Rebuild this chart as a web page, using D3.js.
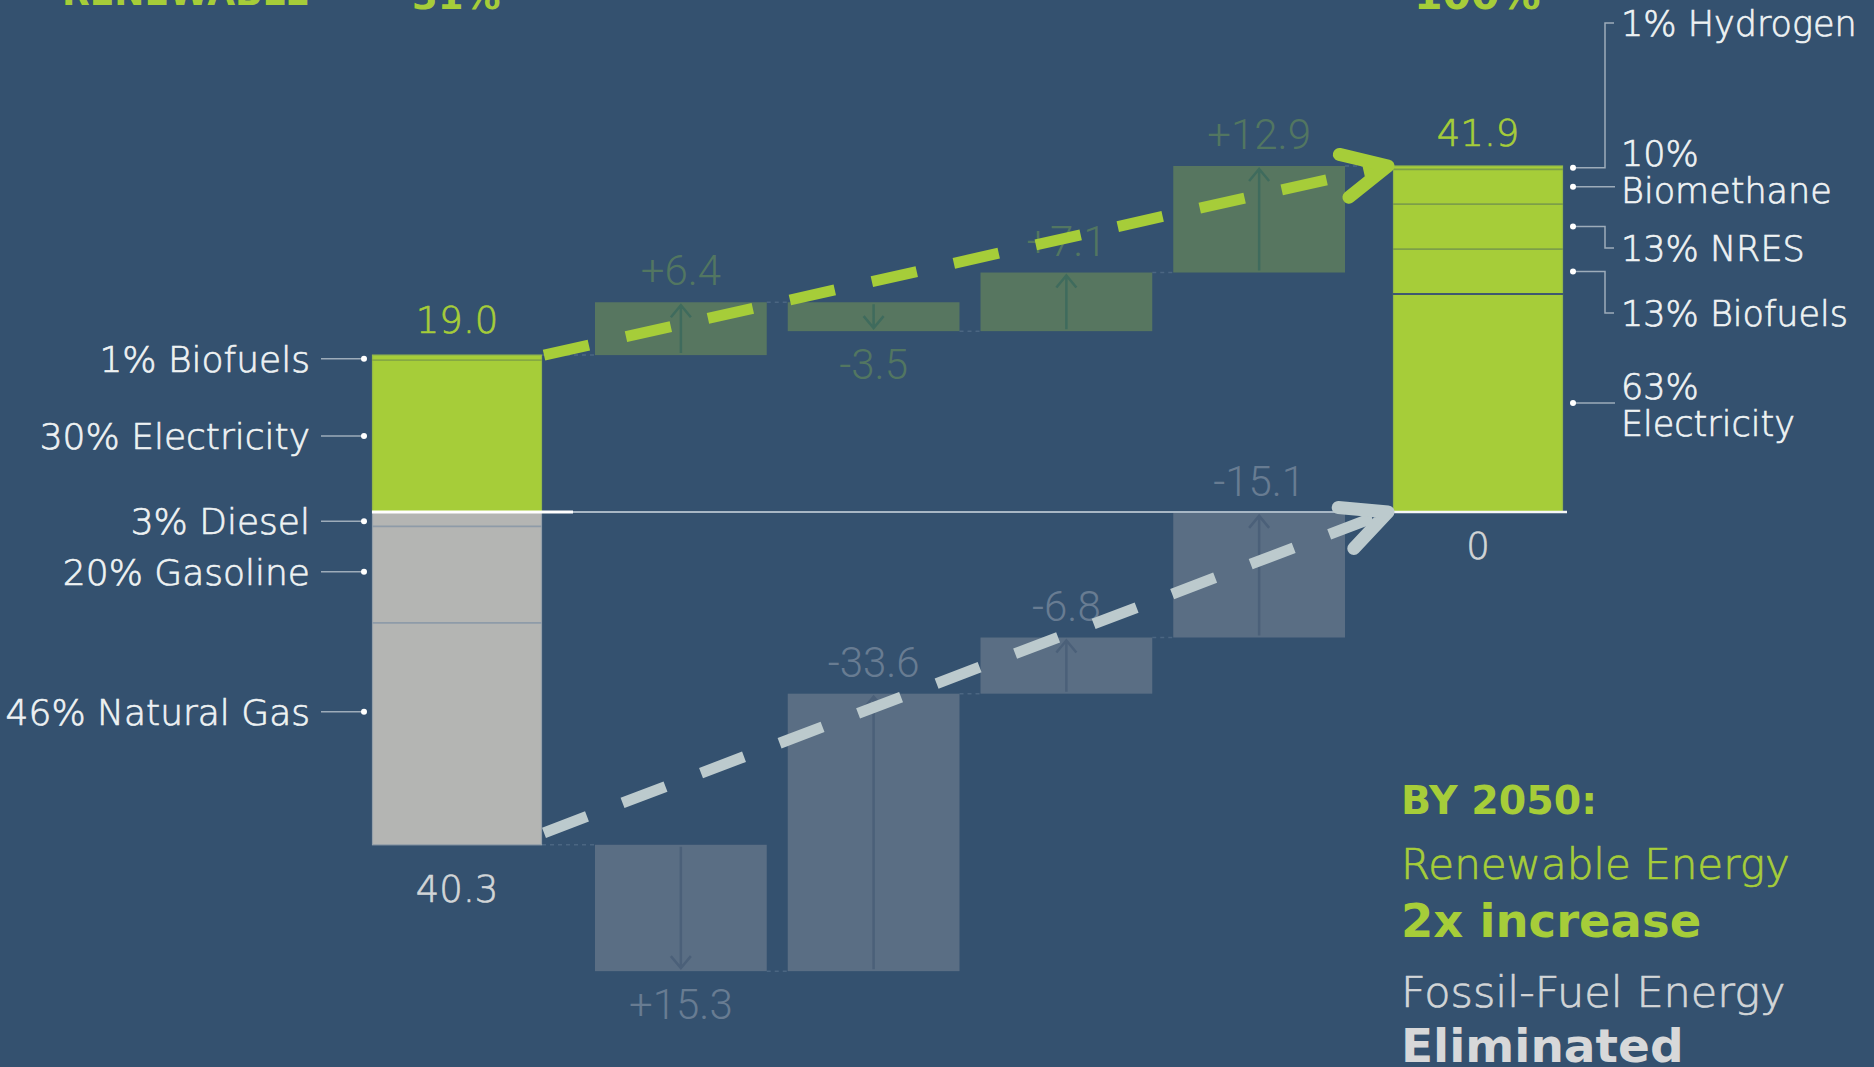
<!DOCTYPE html>
<html><head><meta charset="utf-8">
<script src="https://cdn.jsdelivr.net/npm/d3@7"></script>
<style>
html,body{margin:0;padding:0;background:#34516f;overflow:hidden;}
svg{display:block;}
</style></head><body>
<svg id="chart" width="1874" height="1067"></svg>
<script>
// ---------------- DATA ----------------
const totalColumns = ["start", "end"];
const stepNames = ["step1", "step2", "step3", "step4"];
const renewableStart = 19.0;
const fossilStart = 40.3;
const renewableEnd = 41.9;
const fossilEnd = 0;
const renewableDeltas = [6.4, -3.5, 7.1, 12.9];
const renewableDeltaLabels = ["+6.4", "-3.5", "+7.1", "+12.9"];
const fossilDeltas = [15.3, -33.6, -6.8, -15.1];
const fossilDeltaLabels = ["+15.3", "-33.6", "-6.8", "-15.1"];
const startRenewableNames = ["Biofuels", "Electricity"];
const startRenewablePct = [1, 30];
const startFossilNames = ["Diesel", "Gasoline", "Natural Gas"];
const startFossilPct = [3, 20, 46];
const endRenewableNames = ["Hydrogen", "Biomethane", "NRES", "Biofuels", "Electricity"];
const endRenewablePct = [1, 10, 13, 13, 63];
const valueLabels = ["19.0", "40.3", "41.9", "0"];
const headerTexts = ["RENEWABLE", "31%", "100%"];
const summaryTexts = ["BY 2050:", "Renewable Energy", "2x increase", "Fossil-Fuel Energy", "Eliminated"];

// ---------------- STYLE / LAYOUT ----------------
const W = 1874, H = 1067;
const C = {
  bg: "#34516f", green: "#a6cd39", gray: "#b4b5b3",
  gDelta: "#577660", gDeltaText: "#527661", gArrow: "#3f6b5d",
  fDelta: "#5a6e84", fDeltaText: "#687c92", fArrow: "#4b6079",
  text: "#eef2f3", lightGray: "#d2d5d7", conn: "#9dacba",
  grayDash: "#bccacd"
};
const FONT = "'DejaVu Sans', 'Open Sans', sans-serif";
const NUMFONT = "Roboto, 'Open Sans', sans-serif";
const LABELWEIGHT = 300;
const THICKEN = 0.7;

const svg = d3.select("#chart");
svg.append("rect").attr("width", W).attr("height", H).attr("fill", C.bg);

const y = d3.scaleLinear().domain([0, renewableEnd]).range([512, 166]);
const xTot = d3.scaleBand().domain(totalColumns).range([372, 1563]).paddingInner(0.8335);
const xStep = d3.scaleBand().domain(stepNames).range([595, 1345]).paddingInner(0.109);
const bwT = xTot.bandwidth(), bwS = xStep.bandwidth();

// light text helper (thin font slightly thickened)
function lightText(sel, color) {
  return sel.attr("font-family", FONT).attr("font-weight", LABELWEIGHT).attr("fill", color)
    .attr("stroke", color).attr("stroke-width", THICKEN);
}

// cumulative series
const renCum = [renewableStart];
renewableDeltas.forEach((d, i) => renCum.push(renCum[i] + d));
const fosCum = [-fossilStart];
fossilDeltas.forEach((d, i) => fosCum.push(fosCum[i] - d));

// ---------- faint connectors between bars ----------
const gConn = svg.append("g").attr("stroke", "#55708b").attr("stroke-width", 1.5).attr("stroke-dasharray", "4,4").attr("opacity", 0.7);
function connectors(cum) {
  cum.forEach((v, i) => {
    const x1 = i === 0 ? xTot("start") + bwT : xStep(stepNames[i - 1]) + bwS;
    const x2 = i === cum.length - 1 ? xTot("end") : xStep(stepNames[i]);
    gConn.append("line").attr("x1", x1).attr("x2", x2).attr("y1", y(v)).attr("y2", y(v));
  });
}
connectors(renCum);
connectors(fosCum);

// ---------- delta bars ----------
function deltaBars(cum, labels, fill, arrowColor, textColor) {
  const g = svg.append("g");
  stepNames.forEach((s, i) => {
    const a = cum[i], b = cum[i + 1];
    const top = y(Math.max(a, b)), bot = y(Math.min(a, b));
    const x0 = xStep(s), cx = x0 + bwS / 2;
    g.append("rect").attr("x", x0).attr("y", top).attr("width", bwS).attr("height", bot - top).attr("fill", fill);
    const yFrom = y(a), yTo = y(b);
    const dir = yTo < yFrom ? -1 : 1;
    const ys = yFrom + dir * 2, ye = yTo - dir * 3;
    g.append("path").attr("d", `M${cx},${ys}L${cx},${ye}M${cx - 10},${ye - dir * 12}L${cx},${ye}L${cx + 10},${ye - dir * 12}`)
      .attr("fill", "none").attr("stroke", arrowColor).attr("stroke-width", 2.5);
    const up = dir === -1;
    g.append("text").attr("x", cx).attr("y", up ? top - 17 : bot + 48)
      .attr("text-anchor", "middle").attr("font-family", NUMFONT).attr("font-weight", 300)
      .attr("font-size", 42).attr("fill", textColor).text(labels[i]);
  });
}
deltaBars(renCum, renewableDeltaLabels, C.gDelta, C.gArrow, C.gDeltaText);
deltaBars(fosCum, fossilDeltaLabels, C.fDelta, C.fArrow, C.fDeltaText);

// ---------- stacked total bars ----------
function stackSegs(names, pct, total, startVal) {
  const sum = d3.sum(pct);
  let cur = startVal;
  return names.map((n, i) => {
    const v = pct[i] / sum * total;
    const s = { name: n, pct: pct[i], from: cur, to: cur - v };
    s.mid = (s.from + s.to) / 2;
    cur = s.to;
    return s;
  });
}
const segStartRen = stackSegs(startRenewableNames, startRenewablePct, renewableStart, renewableStart);
const segStartFos = stackSegs(startFossilNames, startFossilPct, fossilStart, 0);
const segEndRen = stackSegs(endRenewableNames, endRenewablePct, renewableEnd, renewableEnd);

function drawStack(segs, col, fill, edge, divider) {
  const g = svg.append("g");
  const x0 = xTot(col);
  segs.forEach(s => {
    const t = y(Math.max(s.from, s.to)), b = y(Math.min(s.from, s.to));
    g.append("rect").attr("x", x0).attr("y", t).attr("width", bwT).attr("height", b - t).attr("fill", fill);
  });
  const ext = d3.extent(segs.flatMap(s => [s.from, s.to]));
  g.append("rect").attr("x", x0 + 0.5).attr("y", y(ext[1])).attr("width", bwT - 1).attr("height", y(ext[0]) - y(ext[1]))
    .attr("fill", "none").attr("stroke", edge).attr("stroke-width", 1.2);
  segs.slice(0, -1).forEach((s, i) => {
    g.append("line").attr("x1", x0).attr("x2", x0 + bwT).attr("y1", y(s.to)).attr("y2", y(s.to))
      .attr("stroke", typeof divider === "function" ? divider(i) : divider).attr("stroke-width", 1.8);
  });
}
drawStack(segStartRen, "start", C.green, "#93b84a", "#86a942");
drawStack(segStartFos, "start", C.gray, "#95a0aa", "#8e9ba8");
drawStack(segEndRen, "end", C.green, "#93b84a", i => i === 3 ? "#3f5870" : "#7c9f48");

// ---------- zero lines ----------
svg.append("line").attr("x1", xTot("start") + bwT).attr("x2", xTot("end")).attr("y1", y(0)).attr("y2", y(0))
  .attr("stroke", "#a8b7c5").attr("stroke-width", 2);
svg.append("line").attr("x1", xTot("start")).attr("x2", xTot("start") + bwT + 31).attr("y1", y(0)).attr("y2", y(0))
  .attr("stroke", "#ffffff").attr("stroke-width", 3);
svg.append("line").attr("x1", xTot("end")).attr("x2", xTot("end") + bwT + 4).attr("y1", y(0)).attr("y2", y(0))
  .attr("stroke", "#f4f6f7").attr("stroke-width", 2.5);

// ---------- value labels ----------
const cxS = xTot("start") + bwT / 2, cxE = xTot("end") + bwT / 2;
function valText(x, yy, t, color) {
  lightText(svg.append("text"), color).attr("x", x).attr("y", yy).attr("text-anchor", "middle")
    .attr("font-size", 37).text(t);
}
valText(cxS, y(renewableStart) - 22, valueLabels[0], C.green);
valText(cxS, y(-fossilStart) + 57, valueLabels[1], C.lightGray);
valText(cxE, y(renewableEnd) - 20, valueLabels[2], C.green);
valText(cxE, y(fossilEnd) + 47, valueLabels[3], C.lightGray);

// ---------- left labels ----------
const leftSegs = segStartRen.concat(segStartFos);
const leftDy = [1, 0, 2, -3, -22];
const gL = svg.append("g");
leftSegs.forEach((s, i) => {
  const yy = y(s.mid) + leftDy[i];
  const dotX = xTot("start") - 8;
  gL.append("line").attr("x1", dotX - 43).attr("x2", dotX).attr("y1", yy).attr("y2", yy).attr("stroke", C.conn).attr("stroke-width", 1.5);
  gL.append("circle").attr("cx", dotX).attr("cy", yy).attr("r", 3).attr("fill", "#ffffff");
  lightText(gL.append("text"), C.text).attr("x", dotX - 54).attr("y", yy).attr("dy", "0.36em").attr("text-anchor", "end")
    .attr("font-size", 36).text(`${s.pct}% ${s.name}`);
});

// ---------- right labels ----------
const rightLayout = [
  { textY: 23, twoLine: false },
  { textY: 153, twoLine: true },
  { textY: 248, twoLine: false },
  { textY: 313, twoLine: false },
  { textY: 386, twoLine: true }
];
const gR = svg.append("g");
const rDotX = xTot("end") + bwT + 10, elbowX = rDotX + 32, textX = rDotX + 48;
segEndRen.forEach((s, i) => {
  const L = rightLayout[i];
  const dy = y(s.mid);
  const meetY = L.twoLine ? dy : L.textY;
  const d = L.twoLine ? `M${rDotX},${dy}H${textX - 6}` : `M${rDotX},${dy}H${elbowX}V${meetY}H${textX - 7}`;
  gR.append("path").attr("d", d).attr("fill", "none").attr("stroke", C.conn).attr("stroke-width", 1.5);
  gR.append("circle").attr("cx", rDotX).attr("cy", dy).attr("r", 3).attr("fill", "#ffffff");
  const t = lightText(gR.append("text"), C.text).attr("font-size", 35);
  if (L.twoLine) {
    t.append("tspan").attr("x", textX).attr("y", L.textY).attr("dy", "0.36em").text(`${s.pct}%`);
    t.append("tspan").attr("x", textX).attr("y", L.textY + 37).attr("dy", "0.36em").text(s.name);
  } else {
    t.attr("x", textX).attr("y", L.textY).attr("dy", "0.36em").text(`${s.pct}% ${s.name}`);
  }
});

// ---------- header (cropped at the top edge, as in the original) ----------
svg.append("text").attr("x", 62).attr("y", 5).attr("font-family", FONT).attr("font-weight", "bold")
  .attr("font-size", 36).attr("fill", C.green).text(headerTexts[0]);
svg.append("text").attr("x", 412).attr("y", 9).attr("font-family", FONT).attr("font-weight", "bold")
  .attr("font-size", 37).attr("fill", C.green).text(headerTexts[1]);
svg.append("text").attr("x", 1414).attr("y", 9).attr("font-family", FONT).attr("font-weight", "bold")
  .attr("font-size", 41).attr("fill", C.green).text(headerTexts[2]);

// ---------- summary block ----------
const sumStyle = [
  { y: 814, size: 39.5, weight: "bold", color: C.green },
  { y: 879, size: 42, weight: LABELWEIGHT, color: C.green },
  { y: 937, size: 46.5, weight: "bold", color: C.green },
  { y: 1007, size: 43, weight: LABELWEIGHT, color: C.lightGray },
  { y: 1062, size: 47, weight: "bold", color: "#d7d8d9" }
];
summaryTexts.forEach((t, i) => {
  const st = sumStyle[i];
  const el = svg.append("text").attr("x", 1401).attr("y", st.y).attr("font-family", FONT).attr("font-weight", st.weight)
    .attr("font-size", st.size).attr("fill", st.color).text(t);
  if (st.weight === LABELWEIGHT) el.attr("stroke", st.color).attr("stroke-width", THICKEN);
});

// ---------- dashed trend arrows ----------
const line = d3.line();
function trendArrow(p0, p1, color) {
  svg.append("path").attr("d", line([p0, p1])).attr("fill", "none").attr("stroke", color)
    .attr("stroke-width", 11).attr("stroke-dasharray", "46,38");
  const dx = p1[0] - p0[0], dyy = p1[1] - p0[1], len = Math.hypot(dx, dyy);
  const bx = -dx / len, by = -dyy / len;
  const ang = 26 * Math.PI / 180, L = 50;
  const rot = (a) => [p1[0] + L * (bx * Math.cos(a) - by * Math.sin(a)), p1[1] + L * (bx * Math.sin(a) + by * Math.cos(a))];
  svg.append("path").attr("d", line([rot(ang), p1, rot(-ang)])).attr("fill", "none").attr("stroke", color)
    .attr("stroke-width", 13).attr("stroke-linecap", "round").attr("stroke-linejoin", "round");
}
trendArrow([xTot("start") + bwT + 2, y(renewableStart)], [xTot("end") - 5, y(renewableEnd)], C.green);
trendArrow([xTot("start") + bwT + 2, y(-fossilStart) - 12], [xTot("end") - 5, y(fossilEnd)], C.grayDash);
</script>
</body></html>
